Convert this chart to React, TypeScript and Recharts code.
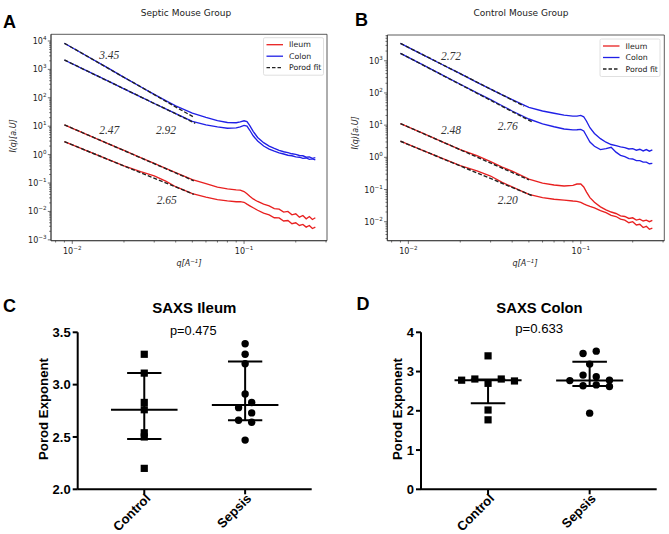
import React from 'react';
import { LineChart, Line, XAxis, YAxis, ReferenceArea, ScatterChart, Scatter, ReferenceLine } from 'recharts';

// ---------------- SAXS curves (panels A, B) ----------------
const qGrid = [0.009, 0.012, 0.016, 0.02, 0.025, 0.03, 0.035, 0.04, 0.05, 0.06, 0.07, 0.08, 0.09, 0.095, 0.1, 0.104, 0.108, 0.113, 0.12, 0.13, 0.14, 0.15, 0.16, 0.17, 0.18, 0.19, 0.2, 0.21, 0.22, 0.23, 0.24, 0.25, 0.26];

const septicColonHigh = [8300, 3090, 1150, 525, 245, 132, 79, 52, 29, 20.4, 15.8, 13.5, 13.2, 14.1, 15.5, 14.5, 10.5, 6.6, 4.0, 2.63, 2.0, 1.66, 1.41, 1.26, 1.17, 1.07, 1.02, 0.93, 0.91, 0.81, 0.83, 0.74, 0.78];
const septicColonLow = [2140, 920, 400, 207, 107, 63, 40.7, 27.5, 14.8, 11.2, 9.5, 8.5, 8.7, 9.5, 10.7, 10, 7.2, 4.6, 3.0, 2.0, 1.55, 1.32, 1.15, 1.05, 0.95, 0.91, 0.83, 0.81, 0.74, 0.76, 0.68, 0.71, 0.65];
const septicIleumHigh = [11.2, 5.3, 2.5, 1.41, 0.79, 0.49, 0.33, 0.234, 0.132, 0.095, 0.072, 0.062, 0.0575, 0.056, 0.05, 0.042, 0.034, 0.0275, 0.0224, 0.018, 0.0158, 0.0126, 0.012, 0.0095, 0.01, 0.0076, 0.0083, 0.0063, 0.0072, 0.0055, 0.0066, 0.0052, 0.006];
const septicIleumLow = [2.85, 1.4, 0.69, 0.4, 0.25, 0.18, 0.117, 0.074, 0.042, 0.032, 0.026, 0.0235, 0.022, 0.022, 0.021, 0.018, 0.0158, 0.0135, 0.011, 0.0087, 0.0076, 0.006, 0.0059, 0.0046, 0.0048, 0.0037, 0.004, 0.0032, 0.0035, 0.0028, 0.0032, 0.0025, 0.0028];

const controlColonHigh = [3470, 1580, 725, 400, 214, 132, 87, 62, 35.5, 27.5, 23.4, 20.4, 19, 19, 20, 18.2, 13.2, 8.3, 5.5, 3.8, 2.95, 2.5, 2.3, 2.1, 2.0, 1.82, 1.86, 1.66, 1.78, 1.58, 1.74, 1.55, 1.7];
const controlColonLow = [1700, 767, 347, 186, 100, 62, 40, 27.5, 15.5, 11, 8.9, 7.6, 7.1, 7.2, 7.4, 6.6, 4.6, 3.0, 2.2, 1.74, 1.86, 2.04, 1.45, 1.15, 1.05, 0.91, 0.89, 0.79, 0.79, 0.71, 0.71, 0.63, 0.65];
const controlIleumHigh = [11.2, 5.75, 2.9, 1.72, 1.12, 0.74, 0.5, 0.37, 0.21, 0.158, 0.138, 0.129, 0.135, 0.148, 0.148, 0.12, 0.083, 0.056, 0.04, 0.029, 0.0234, 0.02, 0.018, 0.0151, 0.0145, 0.0126, 0.0132, 0.0112, 0.012, 0.0105, 0.0112, 0.01, 0.011];
const controlIleumLow = [3.16, 1.68, 0.89, 0.55, 0.38, 0.263, 0.166, 0.12, 0.071, 0.056, 0.05, 0.047, 0.044, 0.043, 0.04, 0.036, 0.033, 0.03, 0.027, 0.022, 0.019, 0.0158, 0.0145, 0.012, 0.0112, 0.0093, 0.01, 0.0079, 0.0083, 0.0066, 0.0072, 0.0058, 0.0063];

// Porod fits: [q, I] end points
const septicFitColonHigh = [[0.009, 8300], [0.0505, 21.4]];
const septicFitColonLow = [[0.009, 2140], [0.052, 12.7]];
const septicFitIleumHigh = [[0.009, 11.2], [0.051, 0.12]];
const septicFitIleumLow = [[0.009, 2.85], [0.051, 0.04]];
const controlFitColonHigh = [[0.009, 3470], [0.047, 39]];
const controlFitColonLow = [[0.009, 1700], [0.052, 12.7]];
const controlFitIleumHigh = [[0.009, 11.2], [0.05, 0.2]];
const controlFitIleumLow = [[0.009, 3.16], [0.052, 0.065]];

const septicExponents = ['3.45', '2.47', '2.92', '2.65'];
const controlExponents = ['2.72', '2.48', '2.76', '2.20'];
const legendLabels = ['Ileum', 'Colon', 'Porod fit'];

const decadesA = [1e-3, 1e-2, 1e-1, 1, 10, 100, 1e3, 1e4];
const decadesB = [1e-3, 1e-2, 1e-1, 1, 10, 100, 1e3];
const decadesX = [1e-3, 1e-2, 1e-1];
const minorSubs = [2, 3, 4, 5, 6, 7, 8, 9];

// ---------------- Porod exponents (panels C, D) ----------------
const categories = ['Control', 'Sepsis'];
const ileumControl = [3.29, 3.11, 2.83, 2.76, 2.54, 2.5, 2.2];
const ileumControlLanes = [0, 0, 0, 0, 0, 0, 0];
const ileumSepsis = [3.39, 3.29, 3.2, 2.91, 2.83, 2.78, 2.73, 2.66, 2.64, 2.47];
const ileumSepsisLanes = [0, 0, 0, 0, 0.5, -0.5, 0.5, -0.5, 0.5, 0];
const ileumMedian = [2.76, 2.805];
const ileumQ1 = [2.48, 2.66];
const ileumQ3 = [3.11, 3.22];

const colonControl = [3.4, 2.78, 2.81, 2.7, 2.81, 2.76, 2.02, 1.77];
const colonControlLanes = [0, -2, -1, 0, 1, 2, 0, 0];
const colonSepsis = [3.46, 3.52, 3.19, 2.91, 2.87, 2.77, 2.78, 2.64, 2.66, 2.62, 1.94];
const colonSepsisLanes = [-0.5, 0.5, 0, -0.5, 0.5, -1.5, 1.5, -0.5, 0.5, 1.5, 0];
const colonMedian = [2.78, 2.77];
const colonQ1 = [2.19, 2.63];
const colonQ3 = [2.8, 3.25];

const ileumTicks = [2, 2.5, 3, 3.5];
const colonTicks = [0, 1, 2, 3, 4];
const ileumPValue = 'p=0.475';
const colonPValue = 'p=0.633';

// ---------------- styles ----------------
const MPL = 'DejaVu Sans, sans-serif';
const ARIAL = 'Liberation Sans, Arial, Helvetica, sans-serif';
const SERIF = 'Liberation Serif, DejaVu Serif, serif';
const RED = '#e82020';
const BLUE = '#2020e6';
const LANE = 0.13;
const MEDIAN_HALF = 0.33;
const BAR_HALF = 0.17;

const toSeries = (I: number[]) => qGrid.map((q, i) => ({ q, I: I[i] }));
const toFit = (pts: number[][]) => pts.map(([q, I]) => ({ q, I }));
const buildTicks = (decades: number[], lo: number, hi: number) => {
  const out: number[] = [];
  decades.forEach((d) => {
    out.push(d);
    minorSubs.forEach((m) => out.push(parseFloat((d * m).toPrecision(6))));
  });
  return out.filter((v) => v >= lo && v <= hi).sort((a, b) => a - b);
};
const isMajor = (v: number) => Math.abs(Math.log10(v) - Math.round(Math.log10(v))) < 1e-6;
const expText = (v: number) => {
  const e = Math.round(Math.log10(v));
  return e < 0 ? '\u2212' + Math.abs(e) : String(e);
};

function LogTickX(props: any) {
  const { x, y, payload } = props;
  const v = payload && payload.value;
  if (v == null) return null;
  const major = isMajor(v);
  return (
    <g>
      <line x1={x} x2={x} y1={y} y2={y + (major ? 3.2 : 1.8)} stroke="#333" strokeWidth={0.7} />
      {major && (
        <text x={x} y={y + 13} textAnchor="middle" fontSize={8} fontFamily={MPL} fill="#222">
          10<tspan dy={-4} fontSize={5.6}>{expText(v)}</tspan>
        </text>
      )}
    </g>
  );
}

function LogTickY(props: any) {
  const { x, y, payload } = props;
  const v = payload && payload.value;
  if (v == null) return null;
  const major = isMajor(v);
  return (
    <g>
      <line x1={x} x2={x - (major ? 3.2 : 1.8)} y1={y} y2={y} stroke="#333" strokeWidth={0.7} />
      {major && (
        <text x={x - 4.5} y={y + 3} textAnchor="end" fontSize={8} fontFamily={MPL} fill="#222">
          10<tspan dy={-4} fontSize={5.6}>{expText(v)}</tspan>
        </text>
      )}
    </g>
  );
}

type Curve = { data: { q: number; I: number }[]; color: string; dashed?: boolean };

function SaxsChart(props: {
  width: number; height: number; margin: any; xDomain: [number, number]; yDomain: [number, number];
  yDecades: number[]; curves: Curve[];
}) {
  const { width, height, margin, xDomain, yDomain, yDecades, curves } = props;
  const xTicks = buildTicks(decadesX, xDomain[0], xDomain[1]);
  const yTicks = buildTicks(yDecades, yDomain[0], yDomain[1]);
  return (
    <LineChart width={width} height={height} margin={margin}>
      <XAxis type="number" dataKey="q" scale="log" domain={xDomain} allowDataOverflow ticks={xTicks} interval={0}
        tick={(p: any) => <LogTickX {...p} />} tickLine={false} tickSize={0} tickMargin={0}
        axisLine={{ stroke: '#333', strokeWidth: 0.8 }} height={20} />
      <YAxis type="number" dataKey="I" scale="log" domain={yDomain} allowDataOverflow ticks={yTicks} interval={0}
        tick={(p: any) => <LogTickY {...p} />} tickLine={false} tickSize={0} tickMargin={0}
        axisLine={{ stroke: '#333', strokeWidth: 0.8 }} width={40} />
      <ReferenceArea x1={xDomain[0]} x2={xDomain[1]} y1={yDomain[0]} y2={yDomain[1]} fill="none" fillOpacity={0}
        stroke="#333" strokeWidth={0.8} ifOverflow="visible" />
      {curves.map((c, i) => (
        <Line key={i} data={c.data} dataKey="I" type="linear" dot={false} activeDot={false}
          stroke={c.color} strokeWidth={c.dashed ? 1.4 : 1.35} strokeDasharray={c.dashed ? '4 2' : undefined}
          isAnimationActive={false} />
      ))}
    </LineChart>
  );
}

const makePoints = (values: number[], lanes: number[], cat: number) =>
  values.map((v, i) => ({ x: cat + lanes[i] * LANE, y: v }));

const squareShape = (p: any) => <rect x={p.cx - 3.6} y={p.cy - 3.6} width={7.2} height={7.2} fill="#000" />;
const circleShape = (p: any) => <circle cx={p.cx} cy={p.cy} r={3.7} fill="#000" />;

function CatTick(props: any) {
  const { x, y, payload } = props;
  const label = categories[Math.round(payload.value) - 1];
  const ax = x + 7;
  const ay = y + 3;
  return (
    <text x={ax} y={ay} textAnchor="end" transform={`rotate(-45 ${ax} ${ay})`} fontSize={13} fontWeight={700}
      fontFamily={ARIAL} fill="#000">{label}</text>
  );
}

function DotChart(props: {
  width: number; height: number; margin: any; yDomain: [number, number]; yTicks: number[]; decimals: number;
  control: { x: number; y: number }[]; sepsis: { x: number; y: number }[];
  median: number[]; q1: number[]; q3: number[];
}) {
  const { width, height, margin, yDomain, yTicks, decimals, control, sepsis, median, q1, q3 } = props;
  const seg = (x1: number, y1: number, x2: number, y2: number, k: string) => (
    <ReferenceLine key={k} segment={[{ x: x1, y: y1 }, { x: x2, y: y2 }]} stroke="#000" strokeWidth={2} ifOverflow="visible" />
  );
  const summary: any[] = [];
  [1, 2].forEach((c, i) => {
    summary.push(seg(c, q1[i], c, q3[i], 'v' + c));
    summary.push(seg(c - BAR_HALF, q1[i], c + BAR_HALF, q1[i], 'l' + c));
    summary.push(seg(c - BAR_HALF, q3[i], c + BAR_HALF, q3[i], 'u' + c));
    summary.push(seg(c - MEDIAN_HALF, median[i], c + MEDIAN_HALF, median[i], 'm' + c));
  });
  return (
    <ScatterChart width={width} height={height} margin={margin}>
      <XAxis type="number" dataKey="x" domain={[0.34, 2.66]} allowDataOverflow ticks={[1, 2]} interval={0}
        tick={(p: any) => <CatTick {...p} />} tickSize={5} tickMargin={2} height={40}
        axisLine={{ stroke: '#000', strokeWidth: 2 }} tickLine={{ stroke: '#000', strokeWidth: 2 }} />
      <YAxis type="number" dataKey="y" domain={yDomain} allowDataOverflow ticks={yTicks} interval={0} width={60}
        tickFormatter={(v: number) => v.toFixed(decimals)} tickSize={5} tickMargin={2}
        tick={{ fontSize: 13, fontWeight: 700, fill: '#000', fontFamily: ARIAL }}
        axisLine={{ stroke: '#000', strokeWidth: 2 }} tickLine={{ stroke: '#000', strokeWidth: 2 }} />
      {summary}
      <Scatter data={control} shape={squareShape} isAnimationActive={false} />
      <Scatter data={sepsis} shape={circleShape} isAnimationActive={false} />
    </ScatterChart>
  );
}

function LegendBox({ x, y }: { x: number; y: number }) {
  const colors = [RED, BLUE, '#222'];
  return (
    <g>
      <rect x={x} y={y} width={60} height={37.5} rx={1.5} fill="#fff" fillOpacity={0.85} stroke="#d8d8d8" strokeWidth={0.8} />
      {legendLabels.map((l, i) => (
        <g key={l}>
          <line x1={x + 3} x2={x + 19.5} y1={y + 7 + i * 11.5} y2={y + 7 + i * 11.5} stroke={colors[i]} strokeWidth={1.3}
            strokeDasharray={i === 2 ? '3.5 2' : undefined} />
          <text x={x + 25.5} y={y + 9.7 + i * 11.5} fontSize={7.8} fontFamily={MPL} fill="#222">{l}</text>
        </g>
      ))}
    </g>
  );
}

export default function App() {
  const septicCurves: Curve[] = [
    { data: toSeries(septicIleumHigh), color: RED },
    { data: toSeries(septicIleumLow), color: RED },
    { data: toSeries(septicColonHigh), color: BLUE },
    { data: toSeries(septicColonLow), color: BLUE },
    { data: toFit(septicFitColonHigh), color: '#222', dashed: true },
    { data: toFit(septicFitColonLow), color: '#222', dashed: true },
    { data: toFit(septicFitIleumHigh), color: '#222', dashed: true },
    { data: toFit(septicFitIleumLow), color: '#222', dashed: true },
  ];
  const controlCurves: Curve[] = [
    { data: toSeries(controlIleumHigh), color: RED },
    { data: toSeries(controlIleumLow), color: RED },
    { data: toSeries(controlColonHigh), color: BLUE },
    { data: toSeries(controlColonLow), color: BLUE },
    { data: toFit(controlFitColonHigh), color: '#222', dashed: true },
    { data: toFit(controlFitColonLow), color: '#222', dashed: true },
    { data: toFit(controlFitIleumHigh), color: '#222', dashed: true },
    { data: toFit(controlFitIleumLow), color: '#222', dashed: true },
  ];

  const numStyle = { fontSize: 11.5, fontStyle: 'italic' as const, fontFamily: SERIF, fill: '#333' };
  const titleStyle = { fontSize: 9, fontFamily: MPL, fill: '#222' };
  const letterStyle = { fontSize: 18, fontWeight: 700, fontFamily: ARIAL, fill: '#000' };

  return (
    <div style={{ position: 'absolute', left: 0, top: 0, width: 669, height: 534, background: '#fff', overflow: 'hidden' }}>
      <div style={{ position: 'absolute', left: 0, top: 0 }}>
        <SaxsChart width={335} height={270} margin={{ top: 34.3, right: 8, bottom: 9.3, left: 11 }}
          xDomain={[0.00752, 0.304]} yDomain={[0.000933, 17180]} yDecades={decadesA} curves={septicCurves} />
      </div>
      <div style={{ position: 'absolute', left: 335, top: 0 }}>
        <SaxsChart width={334} height={270} margin={{ top: 35, right: 4.7, bottom: 9.3, left: 12.3 }}
          xDomain={[0.00755, 0.305]} yDomain={[0.00257, 6310]} yDecades={decadesB} curves={controlCurves} />
      </div>
      <div style={{ position: 'absolute', left: 0, top: 270 }}>
        <DotChart width={335} height={264} margin={{ top: 62.3, right: 23.3, bottom: 4.7, left: 17.7 }}
          yDomain={[2, 3.5]} yTicks={ileumTicks} decimals={1}
          control={makePoints(ileumControl, ileumControlLanes, 1)} sepsis={makePoints(ileumSepsis, ileumSepsisLanes, 2)}
          median={ileumMedian} q1={ileumQ1} q3={ileumQ3} />
      </div>
      <div style={{ position: 'absolute', left: 335, top: 270 }}>
        <DotChart width={334} height={264} margin={{ top: 62.3, right: 12.3, bottom: 4.7, left: 26 }}
          yDomain={[0, 4]} yTicks={colonTicks} decimals={0}
          control={makePoints(colonControl, colonControlLanes, 1)} sepsis={makePoints(colonSepsis, colonSepsisLanes, 2)}
          median={colonMedian} q1={colonQ1} q3={colonQ3} />
      </div>

      <svg width={669} height={534} style={{ position: 'absolute', left: 0, top: 0, pointerEvents: 'none' }}>
        {/* panel letters */}
        <text x={3} y={28.3} {...letterStyle}>A</text>
        <text x={355} y={26} {...letterStyle}>B</text>
        <text x={3} y={311.7} {...letterStyle}>C</text>
        <text x={356.5} y={310} {...letterStyle}>D</text>

        {/* A */}
        <text x={186} y={15.5} textAnchor="middle" {...titleStyle}>Septic Mouse Group</text>
        <text x={109.3} y={59.3} textAnchor="middle" {...numStyle}>{septicExponents[0]}</text>
        <text x={109.3} y={134.3} textAnchor="middle" {...numStyle}>{septicExponents[1]}</text>
        <text x={166} y={134.3} textAnchor="middle" {...numStyle}>{septicExponents[2]}</text>
        <text x={166.7} y={204} textAnchor="middle" {...numStyle}>{septicExponents[3]}</text>
        <text transform="translate(15.5 136) rotate(-90)" textAnchor="middle" fontSize={8} fontStyle="italic" fontFamily={MPL} fill="#222">I(q)[a.U]</text>
        <text x={189} y={266} textAnchor="middle" fontSize={8} fontStyle="italic" fontFamily={MPL} fill="#222">q[A<tspan dy={-3.5} fontSize={5.6}>{'\u22121'}</tspan><tspan dy={3.5}>]</tspan></text>
        <LegendBox x={263.5} y={37.7} />

        {/* B */}
        <text x={521} y={15.5} textAnchor="middle" {...titleStyle}>Control Mouse Group</text>
        <text x={451} y={60} textAnchor="middle" {...numStyle}>{controlExponents[0]}</text>
        <text x={451} y={134} textAnchor="middle" {...numStyle}>{controlExponents[1]}</text>
        <text x={507.7} y={130} textAnchor="middle" {...numStyle}>{controlExponents[2]}</text>
        <text x={507.7} y={204} textAnchor="middle" {...numStyle}>{controlExponents[3]}</text>
        <text transform="translate(358 133) rotate(-90)" textAnchor="middle" fontSize={8} fontStyle="italic" fontFamily={MPL} fill="#222">I(q)[a.U]</text>
        <text x={525} y={266} textAnchor="middle" fontSize={8} fontStyle="italic" fontFamily={MPL} fill="#222">q[A<tspan dy={-3.5} fontSize={5.6}>{'\u22121'}</tspan><tspan dy={3.5}>]</tspan></text>
        <LegendBox x={600} y={39} />

        {/* C */}
        <text x={194.3} y={312.7} textAnchor="middle" fontSize={15} fontWeight={700} fontFamily={ARIAL} fill="#000">SAXS Ileum</text>
        <text x={193.3} y={335} textAnchor="middle" fontSize={12.8} fontFamily={ARIAL} fill="#000">{ileumPValue}</text>
        <text transform="translate(48 409) rotate(-90)" textAnchor="middle" fontSize={13.2} fontWeight={700} fontFamily={ARIAL} fill="#000">Porod Exponent</text>

        {/* D */}
        <text x={539.5} y={312.7} textAnchor="middle" fontSize={14.8} fontWeight={700} fontFamily={ARIAL} fill="#000">SAXS Colon</text>
        <text x={539.2} y={333} textAnchor="middle" fontSize={13.2} fontFamily={ARIAL} fill="#000">{colonPValue}</text>
        <text transform="translate(401.5 409) rotate(-90)" textAnchor="middle" fontSize={13.2} fontWeight={700} fontFamily={ARIAL} fill="#000">Porod Exponent</text>
      </svg>
    </div>
  );
}
